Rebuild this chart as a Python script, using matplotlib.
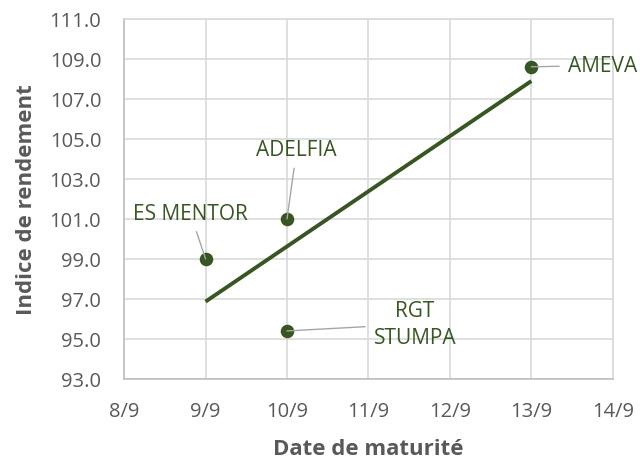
import matplotlib
matplotlib.use("Agg")
import matplotlib.pyplot as plt
import matplotlib.dates as mdates
import matplotlib.ticker as mticker
import numpy as np
from datetime import datetime

# Data
varieties = ["ES MENTOR", "ADELFIA", "RGT STUMPA", "AMEVA"]
maturity_dates = ["2020-09-09", "2020-09-10", "2020-09-10", "2020-09-13"]
yield_index = [99.0, 101.0, 95.4, 108.6]
x_ticks = ["2020-09-08", "2020-09-09", "2020-09-10", "2020-09-11",
           "2020-09-12", "2020-09-13", "2020-09-14"]
y_ticks = [93.0, 95.0, 97.0, 99.0, 101.0, 103.0, 105.0, 107.0, 109.0, 111.0]

# label placement offsets (points) relative to each point
label_offsets = {
    "ES MENTOR": (-11, 33),
    "ADELFIA": (7, 50),
    "RGT STUMPA": (92, 5),
    "AMEVA": (51, 1),
}

plt.rcParams['font.family'] = ['Open Sans', 'DejaVu Sans']

green = "#375623"
gray_text = "#595959"

fig = plt.figure(figsize=(6.43, 4.60), dpi=100)
ax = fig.add_axes([0.193, 0.174, 0.760, 0.783])

xd = mdates.date2num([datetime.strptime(d, "%Y-%m-%d") for d in maturity_dates])
xt = mdates.date2num([datetime.strptime(d, "%Y-%m-%d") for d in x_ticks])

# trendline (linear fit)
coef = np.polyfit(xd, yield_index, 1)
xl = np.array([xd.min(), xd.max()])
ax.plot(xl, np.polyval(coef, xl), color=green, lw=2.8, solid_capstyle="butt", zorder=3)

ax.scatter(xd, yield_index, s=95, color=green, zorder=4, linewidths=0)

for name, x, y in zip(varieties, xd, yield_index):
    dx, dy = label_offsets[name]
    txt = name.replace("RGT STUMPA", "RGT\nSTUMPA")
    ax.annotate(txt, xy=(x, y), xytext=(dx, dy), textcoords="offset points",
                ha="center", va="center", color=green, fontsize=15,
                linespacing=1.4,
                arrowprops=dict(arrowstyle="-", color="#a6a6a6", lw=1.0,
                                shrinkA=4, shrinkB=0), zorder=5)

ax.set_xlim(xt[0], xt[-1])
ax.set_ylim(y_ticks[0], y_ticks[-1])
ax.set_xticks(xt)
ax.set_xticklabels([f"{int(d[8:])}/{int(d[5:7])}" for d in x_ticks])
ax.set_yticks(y_ticks)
ax.yaxis.set_major_formatter(mticker.FormatStrFormatter("%.1f"))

ax.grid(True, color="#d9d9d9", lw=1.2, zorder=0)
ax.set_axisbelow(True)
for s in ["top", "right"]:
    ax.spines[s].set_color("#d9d9d9")
    ax.spines[s].set_linewidth(1.2)
for s in ["left", "bottom"]:
    ax.spines[s].set_color("#bfbfbf")
    ax.spines[s].set_linewidth(1.2)

ax.tick_params(axis="both", length=0, labelsize=14.5, colors=gray_text)
ax.tick_params(axis="x", pad=16)
ax.tick_params(axis="y", pad=16.5)

ax.set_xlabel("Date de maturité", fontsize=16, fontweight="bold", color=gray_text, labelpad=12)
ax.set_ylabel("Indice de rendement", fontsize=16, fontweight="bold", color=gray_text, labelpad=9)

fig.savefig("out.png", dpi=100)
